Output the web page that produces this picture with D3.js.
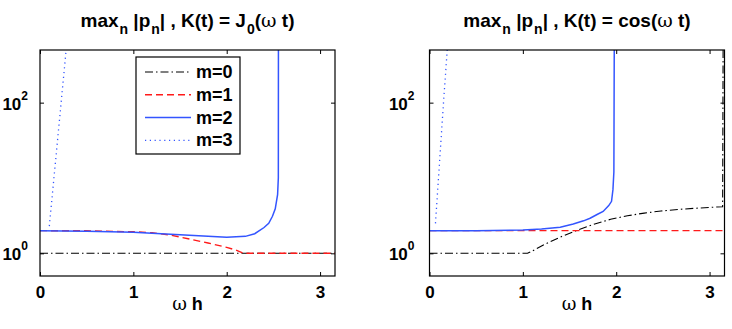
<!DOCTYPE html>
<html>
<head>
<meta charset="utf-8">
<script src="https://cdn.jsdelivr.net/npm/d3@7"></script>
<style>
  body { margin: 0; background: #fff; }
  text { font-family: "Liberation Sans", Arial, Helvetica, sans-serif; font-weight: bold; fill: #000; }
  .greek { font-family: "DejaVu Serif", serif; font-weight: normal; }
</style>
</head>
<body>
<div id="chart"></div>
<script>
// Curves, as [omega*h, max|p_n|]
// Panel 1: K(t) = J0(omega t)
const j0M0 = [[0, 1], [3.16, 1]];
const j0M1 = [[0, 2], [0.5, 1.99], [1.0, 1.93], [1.2, 1.88], [1.4, 1.74], [1.6, 1.55],
              [1.8, 1.37], [2.0, 1.2], [2.1, 1.1], [2.18, 1.0], [3.16, 1]];
const j0M2 = [[0, 2], [0.5, 1.97], [1.0, 1.9], [1.5, 1.77], [1.8, 1.68], [2.0, 1.63],
              [2.2, 1.68], [2.3, 1.82], [2.4, 2.2], [2.45, 2.5], [2.49, 3.1], [2.52, 3.9],
              [2.545, 6], [2.553, 10], [2.554, 500]];
const j0M3 = [[0.1, 2.3], [0.207, 56], [0.28, 500]];

// Panel 2: K(t) = cos(omega t)
const cosM0 = [[0, 1], [1.05, 1], [1.1, 1.07], [1.22, 1.29], [1.41, 1.66], [1.59, 2.04],
               [1.77, 2.45], [1.94, 2.83], [2.12, 3.15], [2.3, 3.42], [2.48, 3.65],
               [2.66, 3.82], [2.84, 3.96], [3.0, 4.07], [3.14, 4.16], [3.145, 500]];
const cosM1 = [[0, 2], [3.16, 2]];
const cosM2 = [[0, 2], [0.5, 2.0], [1.0, 2.04], [1.2, 2.1], [1.4, 2.22], [1.54, 2.45],
               [1.65, 2.7], [1.72, 2.92], [1.8, 3.3], [1.86, 3.6], [1.92, 4.3],
               [1.95, 4.9], [1.965, 7], [1.975, 12], [1.979, 500]];
const cosM3 = [[0.064, 2.5], [0.15, 100], [0.19, 500]];

const legendLabels = ["m=0", "m=1", "m=2", "m=3"];
const xTicks = [0, 1, 2, 3];
const yTicks = [1, 100];
const xDomain = [0, 3.16];
const yDomain = [0.5, 500];

// line styles per m
const styles = [
  { color: "#000", dash: "8,3,1.5,3", width: 1.1 },
  { color: "#ff1a1a", dash: "7,4", width: 1.4 },
  { color: "#3355ff", dash: null, width: 1.5 },
  { color: "#3355ff", dash: "1.2,3.6", width: 1.3 }
];

const panels = [
  { left: 40, title: ["max", "n", " |p", "n", "| , K(t) = J", "0", "(", "ω", " t)"],
    series: [j0M0, j0M1, j0M2, j0M3], legend: true },
  { left: 429.5, title: ["max", "n", " |p", "n", "| , K(t) = cos(", null, null, "ω", " t)"],
    series: [cosM0, cosM1, cosM2, cosM3], legend: false }
];

const plotW = 295, plotH = 226, plotTop = 50;

const svg = d3.select("#chart").append("svg")
    .attr("width", 732)
    .attr("height", 329);

panels.forEach(function(p, i) {
  const g = svg.append("g").attr("transform", "translate(" + p.left + "," + plotTop + ")");

  const x = d3.scaleLinear().domain(xDomain).range([0, plotW]);
  const y = d3.scaleLog().domain(yDomain).range([plotH, 0]);

  g.append("clipPath").attr("id", "clip" + i)
    .append("rect").attr("width", plotW).attr("height", plotH);

  // ticks on all four sides, pointing inward
  g.append("g").attr("transform", "translate(0," + plotH + ")")
    .call(d3.axisBottom(x).tickValues(xTicks).tickFormat(d3.format("d"))
      .tickSizeInner(-4).tickSizeOuter(0).tickPadding(10))
    .call(a => a.select(".domain").remove())
    .call(a => a.selectAll("text").attr("font-size", 17).attr("font-family", null));
  g.append("g")
    .call(d3.axisTop(x).tickValues(xTicks).tickSizeInner(-4).tickSizeOuter(0).tickFormat(""))
    .call(a => a.select(".domain").remove());
  g.append("g")
    .call(d3.axisLeft(y).tickValues(yTicks).tickSizeInner(-4).tickSizeOuter(0).tickFormat(""))
    .call(a => a.select(".domain").remove());
  g.append("g").attr("transform", "translate(" + plotW + ",0)")
    .call(d3.axisRight(y).tickValues(yTicks).tickSizeInner(-4).tickSizeOuter(0).tickFormat(""))
    .call(a => a.select(".domain").remove());

  // y tick labels as 10^k
  yTicks.forEach(function(v) {
    const t = g.append("text")
      .attr("x", i === 0 ? -12 : -15)
      .attr("y", y(v) + 7)
      .attr("text-anchor", "end")
      .attr("font-size", 17);
    t.append("tspan").text("10");
    t.append("tspan").attr("font-size", 12).attr("dy", -10).text(String(Math.round(Math.log10(v))));
  });

  // curves
  const line = d3.line().x(d => x(d[0])).y(d => y(d[1]));
  const lines = g.append("g").attr("clip-path", "url(#clip" + i + ")");
  p.series.forEach(function(s, k) {
    lines.append("path")
      .datum(s)
      .attr("fill", "none")
      .attr("stroke", styles[k].color)
      .attr("stroke-width", styles[k].width)
      .attr("stroke-dasharray", styles[k].dash)
      .attr("d", line);
  });

  // box
  g.append("rect")
    .attr("width", plotW).attr("height", plotH)
    .attr("fill", "none").attr("stroke", "#000").attr("stroke-width", 1.2);

  // title with subscripts
  const title = g.append("text")
    .attr("x", plotW / 2)
    .attr("y", -23)
    .attr("text-anchor", "middle")
    .attr("font-size", 19);
  let down = false;
  p.title.forEach(function(part, j) {
    if (part === null) return;
    const isSub = (j === 1 || j === 3 || j === 5);
    const ts = title.append("tspan").text(part);
    if (isSub) {
      ts.attr("font-size", 14).attr("dy", 7).attr("dx", 1);
      down = true;
    } else if (down) {
      ts.attr("dy", -7);
      down = false;
    }
    if (part === "ω") ts.attr("class", "greek");
  });

  // x label
  const xl = g.append("text")
    .attr("x", plotW / 2)
    .attr("y", plotH + 34)
    .attr("text-anchor", "middle")
    .attr("font-size", 18);
  xl.append("tspan").attr("class", "greek").text("ω");
  xl.append("tspan").text(" h");

  // legend
  if (p.legend) {
    const lg = g.append("g").attr("transform", "translate(96,7)");
    lg.append("rect")
      .attr("width", 104).attr("height", 97)
      .attr("fill", "#fff").attr("stroke", "#000").attr("stroke-width", 1.2);
    legendLabels.forEach(function(lab, k) {
      const ly = 15 + k * 22.8;
      lg.append("line")
        .attr("x1", 9).attr("x2", 55).attr("y1", ly).attr("y2", ly)
        .attr("stroke", styles[k].color)
        .attr("stroke-width", styles[k].width)
        .attr("stroke-dasharray", styles[k].dash);
      lg.append("text")
        .attr("x", 60).attr("y", ly + 6)
        .attr("font-size", 18)
        .text(lab);
    });
  }
});
</script>
</body>
</html>
